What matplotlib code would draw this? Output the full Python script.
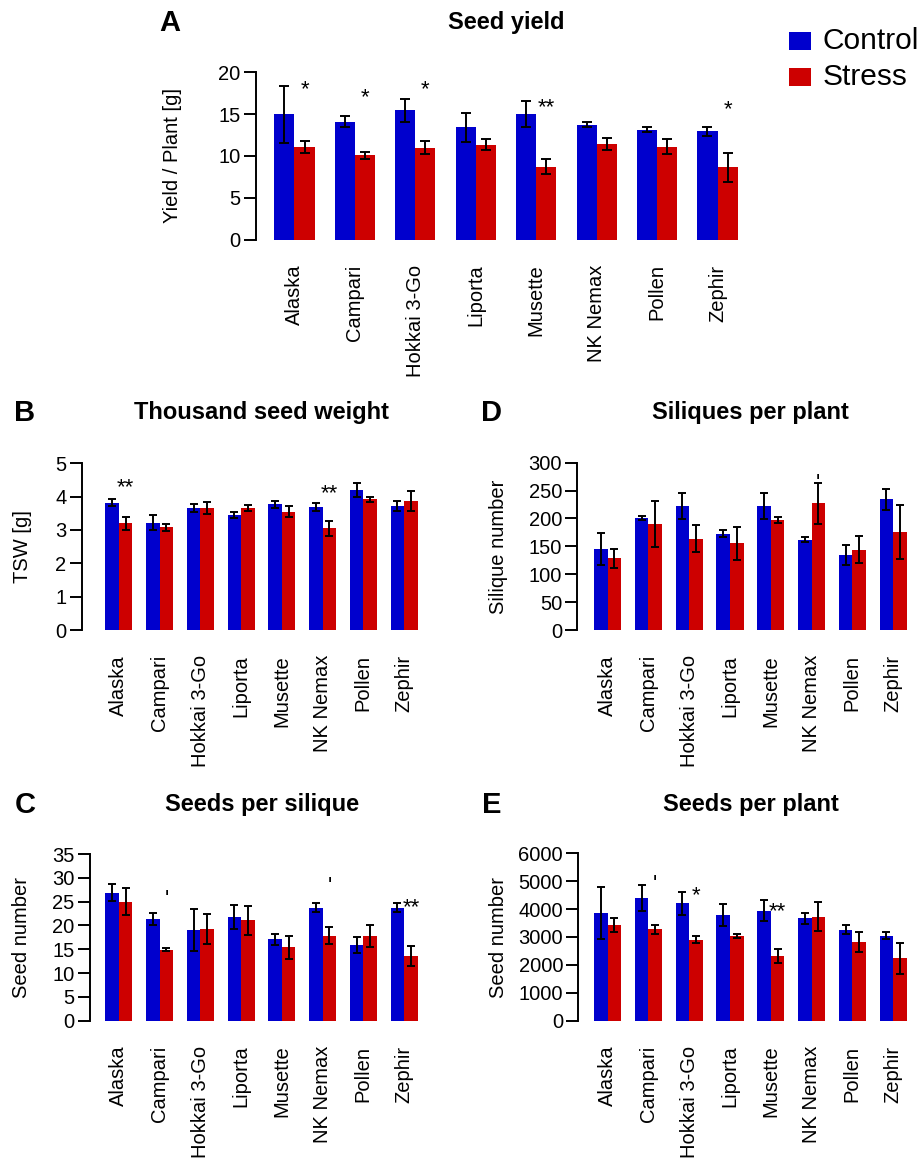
import matplotlib
matplotlib.use("Agg")
import matplotlib.pyplot as plt
from matplotlib.patches import Rectangle
import numpy as np

plt.rcParams['font.family'] = ['Liberation Sans', 'DejaVu Sans']

cultivars = ['Alaska', 'Campari', 'Hokkai 3-Go', 'Liporta', 'Musette',
             'NK Nemax', 'Pollen', 'Zephir']

# A - seed yield
yield_ctrl = [15.0, 14.1, 15.45, 13.4, 15.05, 13.7, 13.15, 12.95]
yield_ctrl_err = [3.4, 0.7, 1.4, 1.7, 1.55, 0.3, 0.35, 0.55]
yield_str = [11.05, 10.05, 11.0, 11.35, 8.7, 11.45, 11.1, 8.65]
yield_str_err = [0.7, 0.4, 0.75, 0.65, 0.9, 0.75, 0.9, 1.75]
yield_sig = ['*', '*', '*', '', '**', '', '', '*']
yield_sig_y = [18.8, 17.9, 18.8, 0, 16.7, 0, 0, 16.5]

# B - thousand seed weight
tsw_ctrl = [3.82, 3.22, 3.66, 3.45, 3.77, 3.69, 4.2, 3.72]
tsw_ctrl_err = [0.1, 0.22, 0.12, 0.085, 0.11, 0.12, 0.2, 0.16]
tsw_str = [3.2, 3.08, 3.67, 3.67, 3.55, 3.05, 3.92, 3.87]
tsw_str_err = [0.19, 0.1, 0.18, 0.09, 0.17, 0.23, 0.075, 0.3]
tsw_sig = ['**', '', '', '', '', '**', '', '']
tsw_sig_y = [4.5, 0, 0, 0, 0, 4.32, 0, 0]

# D - siliques per plant
sil_ctrl = [145, 201, 222, 173, 222, 162, 134.5, 234.5]
sil_ctrl_err = [29, 4, 23, 6, 23, 4, 18, 19]
sil_str = [128.5, 190, 164, 155.5, 197, 227, 144, 176]
sil_str_err = [17, 41, 24, 30, 6, 36.5, 24.5, 48]
sil_sig = ['', '', '', '', '', "'", '', '']
sil_sig_y = [0, 0, 0, 0, 0, 277, 0, 0]

# C - seeds per silique
sps_ctrl = [26.9, 21.35, 19.0, 21.85, 17.1, 23.75, 15.95, 23.75]
sps_ctrl_err = [1.7, 1.2, 4.35, 2.5, 1.2, 1.0, 1.65, 1.0]
sps_str = [25.0, 14.9, 19.25, 21.05, 15.4, 17.85, 17.85, 13.6]
sps_str_err = [2.9, 0.35, 3.25, 3.1, 2.4, 1.8, 2.3, 2.1]
sps_sig = ['', "'", '', '', '', "'", '', '**']
sps_sig_y = [0, 27.1, 0, 0, 0, 29.75, 0, 25.3]

# E - seeds per plant
spp_ctrl = [3860, 4385, 4205, 3790, 3945, 3670, 3265, 3050]
spp_ctrl_err = [940, 465, 425, 410, 370, 190, 165, 130]
spp_str = [3420, 3275, 2905, 3035, 2320, 3730, 2820, 2240]
spp_str_err = [250, 160, 130, 60, 250, 520, 360, 555]
spp_sig = ['', "'", '*', '', '**', '', '', '']
spp_sig_y = [0, 5140, 4745, 0, 4185, 0, 0, 0]

BLUE = '#0000CD'
RED = '#CD0000'
W, H = 924, 1160

fig = plt.figure(figsize=(W / 100, H / 100), dpi=100)


def fx(px):
    return px / W


def fy(py):
    return 1 - py / H


def panel(spine_x, bar0, bar1, y0, ytop, ymax, yticks,
          ctrl, ctrl_err, stress, stress_err, sig, sig_y,
          letter, title, ylabel, letter_x, title_x, title_y, ylabel_x, capsize):
    unit = (bar1 - bar0) / 23.0
    xlo = 1 - (bar0 - spine_x) / unit
    right = bar0 + 23.92 * unit
    ax = fig.add_axes([fx(spine_x), fy(y0), fx(right - spine_x), (y0 - ytop) / H])
    n = len(ctrl)
    x = np.arange(n) * 3 + 1
    ax.bar(x, ctrl, width=1, align='edge', color=BLUE, linewidth=0)
    ax.bar(x + 1, stress, width=1, align='edge', color=RED, linewidth=0)
    ekw = dict(fmt='none', ecolor='black', elinewidth=1.4, capsize=capsize,
               capthick=1.4, clip_on=False)
    ax.errorbar(x + 0.5, ctrl, yerr=ctrl_err, **ekw)
    ax.errorbar(x + 1.5, stress, yerr=stress_err, **ekw)
    for i in range(n):
        if sig[i]:
            ax.annotate(sig[i], (x[i] + 1.5, sig_y[i]), xytext=(0, -9.5),
                        textcoords='offset points', ha='center', va='baseline',
                        fontsize=16, annotation_clip=False)
    ax.set_xlim(xlo, 24.92)
    ax.set_ylim(0, ymax)
    ax.set_yticks(yticks)
    ax.set_xticks(x + 1)
    ax.set_xticklabels(cultivars, rotation=90, fontsize=14.5)
    for s in ['top', 'right', 'bottom']:
        ax.spines[s].set_visible(False)
    ax.spines['left'].set_linewidth(1.4)
    ax.tick_params(axis='x', length=0, pad=18)
    ax.tick_params(axis='y', length=9, width=1.4, pad=2, labelsize=14.5)
    ax.patch.set_alpha(0)
    fig.text(fx(letter_x), fy(title_y), letter, fontsize=21, fontweight='bold',
             ha='center', va='center')
    fig.text(fx(title_x), fy(title_y), title, fontsize=17, fontweight='bold',
             ha='center', va='center')
    fig.text(fx(ylabel_x), fy((y0 + ytop) / 2), ylabel, fontsize=14.5,
             rotation=90, ha='center', va='center')
    return ax


panel(256, 274.3, 737.7, 239.5, 72.3, 20, [0, 5, 10, 15, 20],
      yield_ctrl, yield_ctrl_err, yield_str, yield_str_err, yield_sig, yield_sig_y,
      'A', 'Seed yield', 'Yield / Plant [g]', 170, 506, 23, 173, 3.5)

panel(81.7, 105.3, 417.7, 630, 463.3, 5, [0, 1, 2, 3, 4, 5],
      tsw_ctrl, tsw_ctrl_err, tsw_str, tsw_str_err, tsw_sig, tsw_sig_y,
      'B', 'Thousand seed weight', 'TSW [g]', 25, 262, 413, 22, 2.7)

panel(577.3, 594, 906.7, 630, 462.7, 300, [0, 50, 100, 150, 200, 250, 300],
      sil_ctrl, sil_ctrl_err, sil_str, sil_str_err, sil_sig, sil_sig_y,
      'D', 'Siliques per plant', 'Silique number', 492, 750, 413, 498, 2.7)

panel(90, 105.3, 417.7, 1020.7, 854, 35, [0, 5, 10, 15, 20, 25, 30, 35],
      sps_ctrl, sps_ctrl_err, sps_str, sps_str_err, sps_sig, sps_sig_y,
      'C', 'Seeds per silique', 'Seed number', 25, 262, 805, 22, 2.7)

panel(578.3, 594, 906.7, 1020.7, 853.3, 6000, [0, 1000, 2000, 3000, 4000, 5000, 6000],
      spp_ctrl, spp_ctrl_err, spp_str, spp_str_err, spp_sig, spp_sig_y,
      'E', 'Seeds per plant', 'Seed number', 492, 751, 805, 498, 2.7)

# legend
for col, lab, yc in [(BLUE, 'Control', 41), (RED, 'Stress', 77)]:
    fig.add_artist(Rectangle((fx(789), fy(yc + 9)), fx(22), 18 / H,
                             transform=fig.transFigure, color=col, linewidth=0))
    fig.text(fx(823), fy(yc), lab, fontsize=21.5, ha='left', va='center')

fig.savefig('out.png', dpi=100)
